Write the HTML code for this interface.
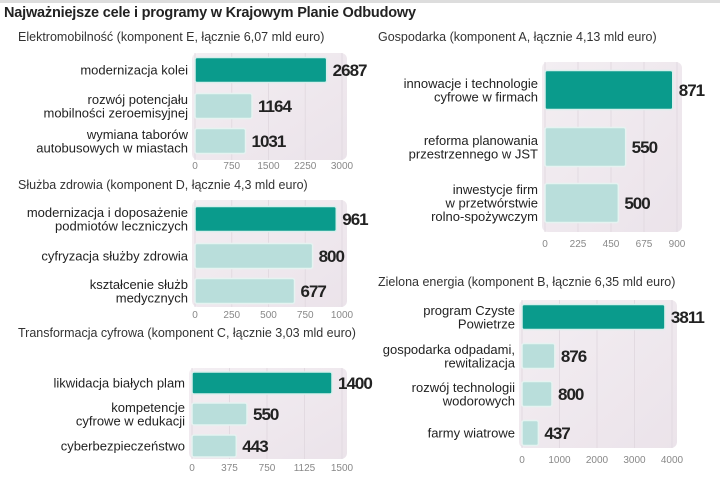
<!DOCTYPE html>
<html><head><meta charset="utf-8">
<style>
body{margin:0;width:720px;height:474px;background:#fff;overflow:hidden;font-family:"Liberation Sans",sans-serif;}
svg text{font-family:"Liberation Sans",sans-serif;}
</style></head>
<body>
<svg id="c" width="720" height="474" viewBox="0 0 720 474" xmlns="http://www.w3.org/2000/svg">
<defs>
<linearGradient id="bg" x1="0" y1="0" x2="1" y2="1">
<stop offset="0" stop-color="#f3eef2"/><stop offset="1" stop-color="#ebe3ea"/>
</linearGradient>
</defs>
<rect x="0" y="0" width="720" height="3" fill="#ddd"/>
<text x="4" y="17" font-size="14.5" font-weight="bold" fill="#222" style="letter-spacing:-0.2px">Najważniejsze cele i programy w Krajowym Planie Odbudowy</text>
</svg>
<script>
const eCats=[["modernizacja kolei"],["rozwój potencjału","mobilności zeroemisyjnej"],["wymiana taborów","autobusowych w miastach"]];
const eVals=[2687,1164,1031];
const eTicks=[0,750,1500,2250,3000];
const dCats=[["modernizacja i doposażenie","podmiotów leczniczych"],["cyfryzacja służby zdrowia"],["kształcenie służb","medycznych"]];
const dVals=[961,800,677];
const dTicks=[0,250,500,750,1000];
const cCats=[["likwidacja białych plam"],["kompetencje","cyfrowe w edukacji"],["cyberbezpieczeństwo"]];
const cVals=[1400,550,443];
const cTicks=[0,375,750,1125,1500];
const aCats=[["innowacje i technologie","cyfrowe w firmach"],["reforma planowania","przestrzennego w JST"],["inwestycje firm","w przetwórstwie","rolno-spożywczym"]];
const aVals=[871,550,500];
const aTicks=[0,225,450,675,900];
const bCats=[["program Czyste","Powietrze"],["gospodarka odpadami,","rewitalizacja"],["rozwój technologii","wodorowych"],["farmy wiatrowe"]];
const bVals=[3811,876,800,437];
const bTicks=[0,1000,2000,3000,4000];

const svg=document.getElementById('c');
const NS='http://www.w3.org/2000/svg';
function mk(t,a){const e=document.createElementNS(NS,t);for(const k in a)e.setAttribute(k,a[k]);svg.appendChild(e);return e;}

function panel(id,title,tx,ty,x0,x1,bgTop,bgBot,cats,vals,ticks,centers,bh,tickY){
  const max=ticks[ticks.length-1];
  const sx=v=>x0+(v/max)*(x1-x0);
  let t=mk('text',{x:tx,y:ty,'font-size':12.5,fill:'#333'});t.textContent=title;
  
  
  let bg=mk('rect',{x:x0-3,y:bgTop,width:x1-x0+8,height:bgBot-bgTop,rx:6,fill:'url(#bg)'});
  
  
  ticks.forEach(v=>{
    const g=mk('line',{x1:sx(v),x2:sx(v),y1:bgTop,y2:bgBot,stroke:'#e2dae1','stroke-width':1});
    
    
    const l=mk('text',{x:sx(v),y:tickY,'font-size':10,fill:'#888','text-anchor':'middle'});l.textContent=v;
    
    
  });
  vals.forEach((v,i)=>{
    const cy=centers[i];
    const r=mk('rect',{x:x0,y:cy-bh/2,width:sx(v)-x0,height:bh,rx:2,fill:i==0?'#0a9b8c':'#b9dedb',stroke:i==0?'#d8efec':'#e6f3f1','stroke-width':1.5});
    
    
    const vl=mk('text',{x:sx(v)+6,y:cy+6,'font-size':17,'font-weight':'bold',fill:'#222',style:'letter-spacing:-1px'});vl.textContent=v;
    
    
    const lines=cats[i];const lh=13.5;
    const start=cy-(lines.length-1)*lh/2+4.5;
    lines.forEach((s,j)=>{
      const c=mk('text',{x:x0-7,y:start+j*lh,'font-size':13,fill:'#222','text-anchor':'end'});c.textContent=s;
      
      
    });
  });
}
panel('elektromobilnosc','Elektromobilność (komponent E, łącznie 6,07 mld euro)',18,41,195,342,53,160,eCats,eVals,eTicks,[70,106,141],25,169);
panel('sluzba-zdrowia','Służba zdrowia (komponent D, łącznie 4,3 mld euro)',18,189,195,342,200,307,dCats,dVals,dTicks,[219,256,291],25,318);
panel('transformacja-cyfrowa','Transformacja cyfrowa (komponent C, łącznie 3,03 mld euro)',18,337,192,342,368,459,cCats,cVals,cTicks,[383,414,446],22,471);
panel('gospodarka','Gospodarka (komponent A, łącznie 4,13 mld euro)',378,41,545,677,62,232,aCats,aVals,aTicks,[90,147,203],39,247);
panel('zielona-energia','Zielona energia  (komponent B, łącznie 6,35 mld euro)',378,286,522,672,300,448,bCats,bVals,bTicks,[317,356,394,433],25,463);
</script>
</body></html>
